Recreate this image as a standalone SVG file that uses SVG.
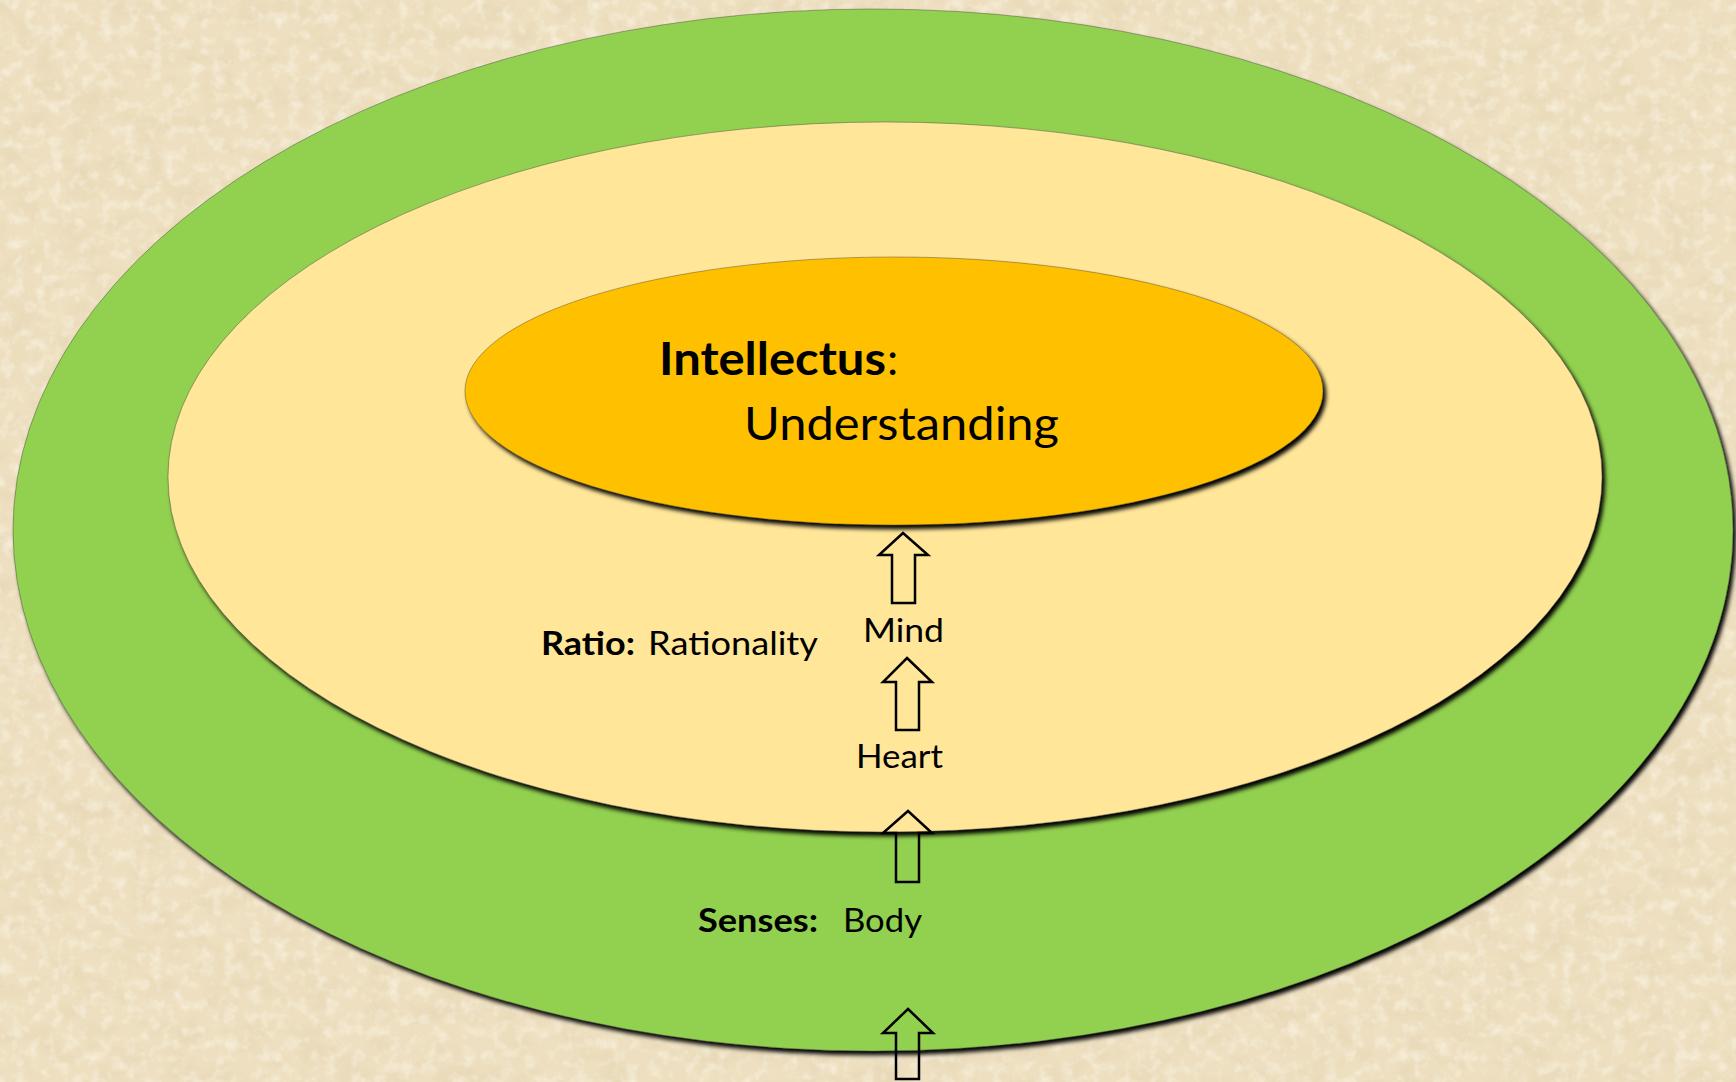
<svg xmlns="http://www.w3.org/2000/svg" width="1736" height="1082" viewBox="0 0 1736 1082">
  <defs>
    <filter id="paper" x="0" y="0" width="100%" height="100%">
      <feTurbulence type="fractalNoise" baseFrequency="0.03 0.045" numOctaves="4" seed="7" result="n"/>
      <feColorMatrix in="n" type="matrix" values="0 0 0 0 0.78  0 0 0 0 0.66  0 0 0 0 0.45  0 0 0 -2.2 1.25"/>
    </filter>
    <filter id="paper2" x="0" y="0" width="100%" height="100%">
      <feTurbulence type="fractalNoise" baseFrequency="0.08" numOctaves="3" seed="2" result="n"/>
      <feColorMatrix in="n" type="matrix" values="0 0 0 0 1  0 0 0 0 0.97  0 0 0 0 0.9  0 0 0 2.4 -1.1"/>
    </filter>
    <filter id="shadow" x="-5%" y="-5%" width="110%" height="110%">
      <feDropShadow dx="3" dy="4" stdDeviation="2" flood-color="#000" flood-opacity="1"/>
    </filter>
    <style>
      .t { font-family: Lato, "Open Sans", "Liberation Sans", sans-serif; fill: #000; }
      .b { font-weight: bold; }
      .arrow { fill: none; stroke: #000; stroke-width: 2.5; stroke-linejoin: miter; }
      .ring { stroke: #3a3a3a; stroke-width: 0.8; stroke-opacity: 0.5; filter: url(#shadow); }
    </style>
  </defs>

  <rect x="0" y="0" width="1736" height="1082" fill="#eddfbf"/>
  <rect x="0" y="0" width="1736" height="1082" filter="url(#paper)" opacity="0.6"/>
  <rect x="0" y="0" width="1736" height="1082" filter="url(#paper2)" opacity="0.5"/>

  <g id="senses">
    <ellipse class="ring" cx="873" cy="530" rx="860" ry="521" fill="#92d050"/>
    <text class="t" x="698" y="932" font-size="32"><tspan class="b" textLength="120" lengthAdjust="spacingAndGlyphs">Senses:</tspan></text>
    <text class="t" x="843" y="932" font-size="32" textLength="79" lengthAdjust="spacingAndGlyphs">Body</text>
  </g>

  <g id="ratio">
    <ellipse class="ring" cx="885" cy="477" rx="717" ry="355" fill="#ffe699"/>
    <text class="t b" x="541" y="655" font-size="32" textLength="94" lengthAdjust="spacingAndGlyphs">Ratio:</text>
    <text class="t" x="648" y="655" font-size="32" textLength="170" lengthAdjust="spacingAndGlyphs">Rationality</text>
    <text class="t" x="863" y="642" font-size="33" textLength="81" lengthAdjust="spacingAndGlyphs">Mind</text>
    <text class="t" x="856" y="768" font-size="32" textLength="87" lengthAdjust="spacingAndGlyphs">Heart</text>
  </g>

  <g id="intellectus">
    <ellipse class="ring" cx="894" cy="391" rx="429" ry="134" fill="#ffc000"/>
    <text class="t b" x="659" y="375" font-size="45" textLength="227" lengthAdjust="spacingAndGlyphs">Intellectus</text>
    <text class="t" x="887" y="375" font-size="45">:</text>
    <text class="t" x="744" y="440" font-size="46" textLength="315" lengthAdjust="spacingAndGlyphs">Understanding</text>
  </g>

  <g id="connectors">
    <path class="arrow" d="M903,533 L928,555 L915,555 L915,603 L892,603 L892,555 L879,555 Z"/>
    <path class="arrow" d="M907,658 L932,682 L919,682 L919,730 L896,730 L896,682 L883,682 Z"/>
    <path class="arrow" d="M908,811 L932,833 L919,833 L919,882 L896,882 L896,833 L883,833 Z"/>
    <path class="arrow" d="M908,1009 L933,1033 L919,1033 L919,1079 L896,1079 L896,1033 L883,1033 Z"/>
  </g>
</svg>
